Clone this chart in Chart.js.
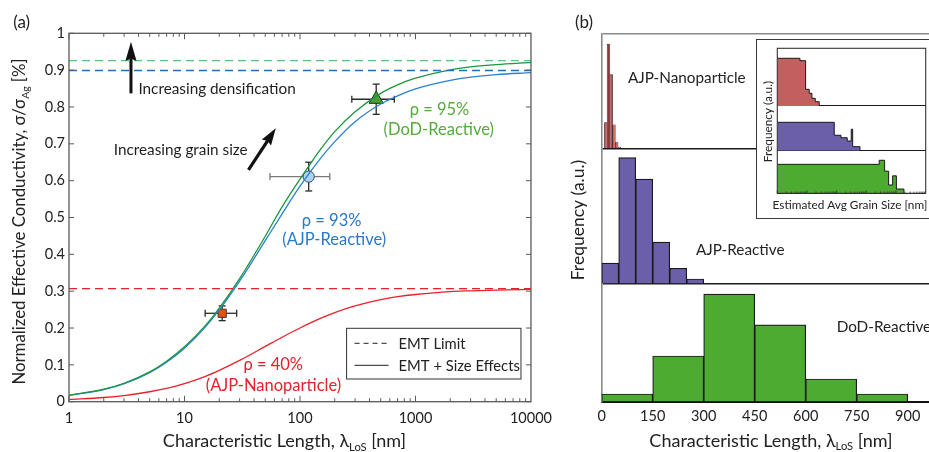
<!DOCTYPE html>
<html><head><meta charset="utf-8">
<script src="https://cdn.jsdelivr.net/npm/chart.js@4/dist/chart.umd.min.js"></script>
<style>
html,body{margin:0;padding:0;background:#fff;overflow:hidden;width:929px;height:452px;}
#wrap{position:relative;width:929px;height:452px;overflow:hidden;background:#fff;}
canvas{position:absolute;display:block;}
#ca{left:0;top:0;}
#cb{left:560px;top:0;}
#inset{position:absolute;left:756px;top:39px;width:181px;height:180px;border:1px solid #3a3a3a;background:#fff;box-sizing:border-box;}
#ci{left:0;top:0;}
</style></head><body>
<div id="wrap">
<canvas id="ca" width="560" height="452"></canvas>
<canvas id="cb" width="400" height="452"></canvas>
<div id="inset"><canvas id="ci" width="179" height="178"></canvas></div>
</div>
<script>
// ---------------- Panel (a) data ----------------
const LAMBDA = [1,2,3,5,7,10,15,20,30,50,70,100,150,200,300,500,700,1000,2000,3000,5000,10000];
const SIGMA_DOD  = [0.0175,0.034,0.050,0.081,0.110,0.149,0.205,0.254,0.334,0.449,0.529,0.604,0.684,0.733,0.787,0.837,0.860,0.878,0.901,0.909,0.915,0.921];
const SIGMA_AJPR = [0.017,0.033,0.049,0.079,0.107,0.145,0.201,0.249,0.327,0.437,0.510,0.585,0.660,0.706,0.760,0.808,0.830,0.849,0.872,0.881,0.888,0.893];
const SIGMA_AJPN = [0.0058,0.0114,0.0167,0.027,0.036,0.049,0.068,0.085,0.112,0.150,0.175,0.200,0.226,0.242,0.260,0.277,0.285,0.291,0.299,0.301,0.303,0.305];
const EMT_DOD = 0.926, EMT_AJPR = 0.899, EMT_AJPN = 0.307;
const X_RANGE_A = [1, 10000];
const X_TICKS_A = [1, 10, 100, 1000, 10000];
const X_LABELS_A = ['1','10','100','1000','10000'];
const Y_TICKS_A = [0,0.1,0.2,0.3,0.4,0.5,0.6,0.7,0.8,0.9,1];
const Y_LABELS_A = ['0','0.1','0.2','0.3','0.4','0.5','0.6','0.7','0.8','0.9','1'];
// measured points: AJP-Nanoparticle, AJP-Reactive, DoD-Reactive
const MEAS_X    = [21.2, 119, 457];
const MEAS_X_LO = [15.1, 55, 281];
const MEAS_X_HI = [28.3, 181, 656];
const MEAS_Y    = [0.240, 0.611, 0.821];
const MEAS_Y_ERR= [0.020, 0.039, 0.041];
const LEGEND_LABELS = ['EMT Limit', 'EMT + Size Effects'];

// ---------------- Panel (b) data ----------------
const LOS_TICKS = [0,150,300,450,600,750,900];
const LOS_LABELS = ['0','150','300','450','600','750','900'];
const NP_BIN   = [12,20,28,36,44,52];
const NP_FREQ  = [0.23,0.91,0.645,0.21,0.055,0.017];
const AJPR_BIN = [25,75,125,175,225,275];
const AJPR_FREQ= [0.155,0.934,0.776,0.31,0.116,0.037];
const DOD_BIN  = [75,225,375,525,675,825];
const DOD_FREQ = [0.068,0.39,0.915,0.653,0.195,0.068];
const ROW_LABELS = ['AJP-Nanoparticle','AJP-Reactive','DoD-Reactive'];
// inset (estimated avg grain size, log axis), bin left edges + last right edge
const IN_NP_EDGE   = [1,5.8,9.0,11.9,14.7,19.0,25.9];
const IN_NP_FREQ   = [0.827,0.785,0.289,0.22,0.133,0.075,0];
const IN_AJPR_EDGE = [1,83,140,227,310,346,610];
const IN_AJPR_FREQ = [0.635,0.345,0.29,0.217,0.48,0.09,0];
const IN_DOD_EDGE  = [1,2718,4130,5630,7690,10300,18450];
const IN_DOD_FREQ  = [0.68,0.775,0.52,0.195,0.41,0.1,0];

// ---------------- helpers ----------------
const FONT = 'Lato, "Noto Sans", sans-serif';
function drawParts(ctx, parts, x, y, size, align, color){
  ctx.save();
  ctx.fillStyle = color; ctx.textBaseline = 'middle'; ctx.textAlign = 'left';
  const fm = size + 'px ' + FONT, fs = (size*0.62).toFixed(1) + 'px ' + FONT;
  let w = 0;
  for (const [t, sub] of parts){ ctx.font = sub ? fs : fm; w += ctx.measureText(t).width; }
  let cx = align === 'center' ? x - w/2 : (align === 'right' ? x - w : x);
  for (const [t, sub] of parts){ ctx.font = sub ? fs : fm; ctx.fillText(t, cx, sub ? y + size*0.33 : y); cx += ctx.measureText(t).width; }
  ctx.restore();
}
function arrow(ctx, x0, y0, x1, y1, shaftW, headL, headW){
  const ang = Math.atan2(y1-y0, x1-x0), len = Math.hypot(x1-x0, y1-y0);
  ctx.save(); ctx.translate(x1, y1); ctx.rotate(ang); ctx.fillStyle = '#111';
  ctx.fillRect(-len, -shaftW/2, len - headL + 2, shaftW);
  ctx.beginPath(); ctx.moveTo(0,0); ctx.lineTo(-headL, -headW/2); ctx.lineTo(-headL+2, 0); ctx.lineTo(-headL, headW/2); ctx.closePath(); ctx.fill();
  ctx.restore();
}
function line(ctx, a, b, c, d){ ctx.beginPath(); ctx.moveTo(a,b); ctx.lineTo(c,d); ctx.stroke(); }

// ---------------- Panel (a) ----------------
const NOTE_TEXT  = ['Increasing densification','Increasing grain size','ρ = 95%','(DoD-Reactive)','ρ = 93%','(AJP-Reactive)','ρ = 40%','(AJP-Nanoparticle)'];
const NOTE_X     = [3.99, 2.44, 1614, 1592, 188, 198, 58.7, 59];
const NOTE_Y     = [0.848, 0.683, 0.792, 0.739, 0.4905, 0.441, 0.0996, 0.0445];
const NOTE_ALIGN = ['left','left','center','center','center','center','center','center'];
const NOTE_COLOR = ['#1e1e1e','#1e1e1e','#56ab3c','#56ab3c','#2a79c7','#2a79c7','#e3212b','#e3212b'];

const errorBars = {
  id: 'errorBars',
  beforeDatasetDraw(chart, args){
    const ds = chart.data.datasets[args.index];
    if (ds.errIndex === undefined) return;
    const i = ds.errIndex, {x, y} = chart.scales, ctx = chart.ctx;
    const px = x.getPixelForValue(MEAS_X[i]), py = y.getPixelForValue(MEAS_Y[i]);
    const xl = x.getPixelForValue(MEAS_X_LO[i]), xh = x.getPixelForValue(MEAS_X_HI[i]);
    const yl = y.getPixelForValue(MEAS_Y[i]-MEAS_Y_ERR[i]), yh = y.getPixelForValue(MEAS_Y[i]+MEAS_Y_ERR[i]);
    ctx.save(); ctx.lineWidth = 1.3;
    ctx.strokeStyle = ds.xErrColor;
    line(ctx, xl, py, xh, py); line(ctx, xl, py-3.5, xl, py+3.5); line(ctx, xh, py-3.5, xh, py+3.5);
    ctx.strokeStyle = '#2a2a2a';
    line(ctx, px, yl, px, yh); line(ctx, px-3.5, yl, px+3.5, yl); line(ctx, px-3.5, yh, px+3.5, yh);
    ctx.restore();
  }
};
const decorA = {
  id: 'decorA',
  afterDraw(chart){
    const {ctx, chartArea:{left,right,top,bottom}, scales:{x,y}} = chart;
    ctx.save();
    ctx.strokeStyle = '#5a5a5a'; ctx.lineWidth = 1.3;
    ctx.strokeRect(left, top, right-left, bottom-top);
    ctx.lineWidth = 1;
    Y_TICKS_A.forEach(v => { const p = y.getPixelForValue(v); line(ctx,left,p,left+5,p); line(ctx,right,p,right-5,p); });
    for (let d = 0; d < 4; d++) for (let m = 1; m <= 9; m++){
      const p = x.getPixelForValue(m*Math.pow(10,d)); const L = m === 1 ? 6 : 3.5;
      line(ctx,p,bottom,p,bottom-L); line(ctx,p,top,p,top+L);
    }
    ctx.restore();
    // annotations
    NOTE_TEXT.forEach((t, i) => {
      drawParts(ctx, [[t,false]], x.getPixelForValue(NOTE_X[i]), y.getPixelForValue(NOTE_Y[i]), i < 2 ? 15.3 : 16.5, NOTE_ALIGN[i], NOTE_COLOR[i]);
    });
    arrow(ctx, x.getPixelForValue(3.44), y.getPixelForValue(0.837), x.getPixelForValue(3.44), y.getPixelForValue(0.977), 3, 19, 11);
    arrow(ctx, x.getPixelForValue(35.8), y.getPixelForValue(0.629), x.getPixelForValue(61.7), y.getPixelForValue(0.742), 3.2, 17, 11);
    // legend box
    const bx = right - 184.4, by = bottom - 73.4, bw = 174.4, bh = 50.7;
    ctx.save();
    ctx.fillStyle = '#fff'; ctx.fillRect(bx, by, bw, bh);
    ctx.strokeStyle = '#333'; ctx.lineWidth = 1; ctx.strokeRect(bx, by, bw, bh);
    ctx.strokeStyle = '#222'; ctx.lineWidth = 1;
    ctx.setLineDash([5,4]); line(ctx, bx+8, by+15, bx+42, by+15);
    ctx.setLineDash([]); line(ctx, bx+8, by+37, bx+42, by+37);
    ctx.restore();
    drawParts(ctx, [[LEGEND_LABELS[0],false]], bx+52, by+15.5, 14.8, 'left', '#222');
    drawParts(ctx, [[LEGEND_LABELS[1],false]], bx+52, by+37.5, 14.8, 'left', '#222');
    // titles
    drawParts(ctx, [['(a)',false]], 21.7, 22.7, 17, 'center', '#222');
    drawParts(ctx, [['Characteristic Length, λ',false],['LoS',true],[' [nm]',false]], 284.5, 441, 18, 'center', '#222');
    ctx.save(); ctx.translate(20, 221.5); ctx.rotate(-Math.PI/2);
    drawParts(ctx, [['Normalized Effective Conductivity, σ/σ',false],['Ag',true],[' [%]',false]], 0, 0, 16.8, 'center', '#222');
    ctx.restore();
  }
};
const pts = (xs, ys) => xs.map((v, i) => ({x: v, y: ys[i]}));
const flat = (xs, v) => xs.map(x => ({x, y: v}));

new Chart(document.getElementById('ca'), {
  type: 'line',
  data: { datasets: [
    {label:'EMT DoD', data: flat(X_RANGE_A, EMT_DOD), borderColor:'#5fc07f', borderDash:[8,5], borderWidth:1.3, pointRadius:0},
    {label:'EMT AJP-R', data: flat(X_RANGE_A, EMT_AJPR), borderColor:'#1f6fc0', borderDash:[8,5], borderWidth:1.3, pointRadius:0},
    {label:'EMT AJP-N', data: flat(X_RANGE_A, EMT_AJPN), borderColor:'#e8212b', borderDash:[8,5], borderWidth:1.3, pointRadius:0},
    {label:'Size DoD', data: pts(LAMBDA, SIGMA_DOD), borderColor:'#1b9641', borderWidth:1.3, pointRadius:0, cubicInterpolationMode:'monotone'},
    {label:'Size AJP-R', data: pts(LAMBDA, SIGMA_AJPR), borderColor:'#2b80d2', borderWidth:1.3, pointRadius:0, cubicInterpolationMode:'monotone'},
    {label:'Size AJP-N', data: pts(LAMBDA, SIGMA_AJPN), borderColor:'#e8212b', borderWidth:1.3, pointRadius:0, cubicInterpolationMode:'monotone'},
    {type:'scatter', label:'AJP-Nanoparticle', errIndex:0, xErrColor:'#2a2a2a', data:[{x:MEAS_X[0], y:MEAS_Y[0]}], pointStyle:'rect', pointRadius:5.8, backgroundColor:'#e2530f', borderColor:'#4a3a30', borderWidth:1},
    {type:'scatter', label:'AJP-Reactive', errIndex:1, xErrColor:'#7a7a7a', data:[{x:MEAS_X[1], y:MEAS_Y[1]}], pointStyle:'circle', pointRadius:5.6, backgroundColor:'#a9d4f3', borderColor:'#3c4b5c', borderWidth:1},
    {type:'scatter', label:'DoD-Reactive', errIndex:2, xErrColor:'#2a2a2a', data:[{x:MEAS_X[2], y:MEAS_Y[2]}], pointStyle:'triangle', pointRadius:8.2, backgroundColor:'#4aa02e', borderColor:'#1c3318', borderWidth:1}
  ]},
  options: {
    responsive:false, animation:false, events:[],
    layout:{padding:{left:0, top:33.3, right:23.3, bottom:0}},
    plugins:{legend:{display:false}, tooltip:{enabled:false}},
    scales:{
      x:{type:'logarithmic', min:X_RANGE_A[0], max:X_RANGE_A[1],
         afterBuildTicks:s => { s.ticks = X_TICKS_A.map(v => ({value:v})); },
         afterFit:s => { s.height = 50.3; },
         ticks:{callback:(v, i) => X_LABELS_A[i], font:{family:FONT, size:14.5}, color:'#222', padding:8, maxRotation:0, autoSkip:false},
         grid:{display:false, drawTicks:false}, border:{display:false}},
      y:{type:'linear', min:0, max:1,
         afterBuildTicks:s => { s.ticks = Y_TICKS_A.map(v => ({value:v})); },
         afterFit:s => { s.width = 69; },
         ticks:{callback:(v, i) => Y_LABELS_A[i], font:{family:FONT, size:14.5}, color:'#222', padding:4, autoSkip:false},
         grid:{display:false, drawTicks:false}, border:{display:false}}
    }
  },
  plugins:[errorBars, decorA]
});

// ---------------- Panel (b) ----------------
const ROW_LABEL_X = [77, 277, 691];
const ROW_LABEL_Y = [0.61, 0.25, 0.633];
const decorB = {
  id:'decorB',
  afterDraw(chart){
    const {ctx, scales} = chart;
    const ys = [scales.yN, scales.yA, scales.yD];
    ROW_LABELS.forEach((t, i) => drawParts(ctx, [[t,false]], scales.x.getPixelForValue(ROW_LABEL_X[i]), ys[i].getPixelForValue(ROW_LABEL_Y[i]), 15.3, 'left', '#222'));
    drawParts(ctx, [['(b)',false]], 24, 23, 17, 'center', '#222');
    drawParts(ctx, [['Characteristic Length, λ',false],['LoS',true],[' [nm]',false]], 211, 440.7, 18, 'center', '#222');
    ctx.save(); ctx.translate(18, 220); ctx.rotate(-Math.PI/2);
    drawParts(ctx, [['Frequency (a.u.)',false]], 0, 0, 17.5, 'center', '#222');
    ctx.restore();
  }
};
const hiddenX = {type:'linear', min:0, max:1000, offset:false, display:false, afterBuildTicks:s => { s.ticks = LOS_TICKS.map(v => ({value:v})); }};
const rowY = (w, top) => ({
  type:'linear', min:0, max:1, position:'left', stack:'rows', stackWeight:w,
  afterBuildTicks:s => { s.ticks = [{value:0},{value:1}]; },
  afterFit:s => { s.width = 41.7; },
  ticks:{display:false},
  grid:{drawTicks:false, lineWidth:1.4, color:c => c.tick.value === 0 ? '#1a1a1a' : (top ? '#8a8a8a' : 'rgba(0,0,0,0)')},
  border:{display:true, color:'#8a8a8a', width:1.6}
});
const barBase = {barPercentage:1, categoryPercentage:1, grouped:false, borderColor:'#1a1a1a', borderWidth:1.2};
new Chart(document.getElementById('cb'), {
  type:'bar',
  data:{datasets:[
    Object.assign({label:ROW_LABELS[2], data:pts(DOD_BIN, DOD_FREQ), xAxisID:'x', yAxisID:'yD', backgroundColor:'#4dab31'}, barBase),
    Object.assign({label:ROW_LABELS[1], data:pts(AJPR_BIN, AJPR_FREQ), xAxisID:'xA', yAxisID:'yA', backgroundColor:'#6a5fa8'}, barBase),
    Object.assign({}, barBase, {label:ROW_LABELS[0], data:pts(NP_BIN, NP_FREQ), xAxisID:'xN', yAxisID:'yN', backgroundColor:['#c2605f','#8a383b','#b35557','#c2605f','#c2605f','#c2605f'], borderColor:'#3a1515', borderWidth:0.8, barPercentage:1.25})
  ]},
  options:{
    responsive:false, animation:false, events:[],
    layout:{padding:{left:0, top:33.3, right:18.3, bottom:0}},
    plugins:{legend:{display:false}, tooltip:{enabled:false}},
    scales:{
      x:{type:'linear', min:0, max:1000, offset:false, position:'bottom',
         afterBuildTicks:s => { s.ticks = LOS_TICKS.map(v => ({value:v})); },
         afterFit:s => { s.height = 50; },
         ticks:{callback:(v, i) => LOS_LABELS[i], font:{family:FONT, size:14.5}, color:'#222', padding:6, maxRotation:0, autoSkip:false},
         grid:{display:false, drawTicks:false, offset:false}, border:{display:true, color:'#111', width:2}},
      xA: hiddenX, xN: hiddenX,
      yD: rowY(118, false),
      yA: rowY(135.3, false),
      yN: rowY(115.4, true)
    }
  },
  plugins:[decorB]
});

// ---------------- Inset ----------------
const decorI = {
  id:'decorI',
  afterDraw(chart){
    const {ctx, chartArea:{left,right,top,bottom}, scales:{x}} = chart;
    ctx.save();
    ctx.strokeStyle = '#333'; ctx.lineWidth = 1.1;
    ctx.strokeRect(left, top, right-left, bottom-top);
    ctx.lineWidth = 0.8;
    for (let d = 0; d < 5; d++) for (let m = 1; m <= 9; m++){
      const p = x.getPixelForValue(m*Math.pow(10,d)); line(ctx, p, bottom, p, bottom - (m === 1 ? 3 : 1.8));
    }
    ctx.restore();
    drawParts(ctx, [['Estimated Avg Grain Size [nm]',false]], 93, 165, 11.8, 'center', '#222');
    ctx.save(); ctx.translate(11.3, 81.5); ctx.rotate(-Math.PI/2);
    drawParts(ctx, [['Frequency (a.u.)',false]], 0, 0, 11.8, 'center', '#222');
    ctx.restore();
  }
};
const inRowY = (w) => ({
  type:'linear', min:0, max:1, position:'left', stack:'irows', stackWeight:w,
  afterBuildTicks:s => { s.ticks = [{value:0},{value:1}]; },
  afterFit:s => { s.width = 20.3; },
  ticks:{display:false},
  grid:{drawTicks:false, lineWidth:1.1, color:c => c.tick.value === 0 ? '#1a1a1a' : 'rgba(0,0,0,0)'},
  border:{display:false}
});
const stepDs = (label, xs, ys, yid, col) => ({label, data:pts(xs, ys), yAxisID:yid, stepped:true, fill:'origin', backgroundColor:col, borderColor:'#1a1a1a', borderWidth:1, pointRadius:0});
// internal bar dividers, derived from the bin edges / heights
const dividers = (label, xs, ys, yid) => {
  const d = [];
  for (let i = 1; i < xs.length - 1; i++){ d.push({x:xs[i], y:0}, {x:xs[i], y:Math.min(ys[i-1], ys[i])}, {x:xs[i], y:null}); }
  return {label: label + ' dividers', data:d, yAxisID:yid, borderColor:'#1a1a1a', borderWidth:0.9, pointRadius:0, spanGaps:false, fill:false};
};
new Chart(document.getElementById('ci'), {
  type:'line',
  data:{datasets:[
    stepDs(ROW_LABELS[2], IN_DOD_EDGE, IN_DOD_FREQ, 'yD', '#4dab31'),
    stepDs(ROW_LABELS[1], IN_AJPR_EDGE, IN_AJPR_FREQ, 'yA', '#6a5fa8'),
    stepDs(ROW_LABELS[0], IN_NP_EDGE, IN_NP_FREQ, 'yN', '#c2605f'),
    dividers(ROW_LABELS[2], IN_DOD_EDGE, IN_DOD_FREQ, 'yD'),
    dividers(ROW_LABELS[1], IN_AJPR_EDGE, IN_AJPR_FREQ, 'yA'),
    dividers(ROW_LABELS[0], IN_NP_EDGE, IN_NP_FREQ, 'yN')
  ]},
  options:{
    responsive:false, animation:false, events:[],
    layout:{padding:{left:0, top:8.3, right:10.3, bottom:0}},
    plugins:{legend:{display:false}, tooltip:{enabled:false}},
    scales:{
      x:{type:'logarithmic', min:1, max:100000, position:'bottom',
         afterFit:s => { s.height = 24.7; },
         ticks:{display:false}, grid:{display:false, drawTicks:false}, border:{display:false}},
      yD: inRowY(42.6),
      yA: inRowY(44.7),
      yN: inRowY(57.7)
    }
  },
  plugins:[decorI]
});
</script>
</body></html>
